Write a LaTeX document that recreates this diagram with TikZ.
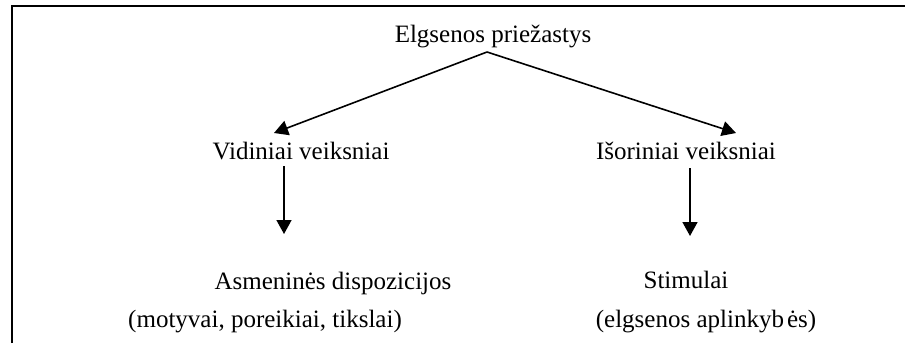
\documentclass[tikz,border=0pt]{standalone}
\usepackage{fontspec}
\setmainfont{Liberation Serif}
\usetikzlibrary{arrows.meta}
\tikzset{
	lbl/.style={inner sep=0pt,anchor=base,font=\fontsize{25}{30}\selectfont},
	arr/.style={line width=1.6pt,-{Triangle[length=14pt,width=15pt]}},
	frame/.style={line width=2pt}
}
\begin{document}
\begin{tikzpicture}[x=1pt,y=-1pt]
	\useasboundingbox (0,0) rectangle (905,343);
	\draw[frame](12,343)--(12,6)--(905,6);
	\node[lbl] (cause) at (493,42) {Elgsenos priežastys};
	\node[lbl] (inner) at (301,159) {Vidiniai veiksniai};
	\node[lbl] (outer) at (686,159) {Išoriniai veiksniai};
	\node[lbl] (disp) at (333,289) {Asmeninės dispozicijos};
	\node[lbl] (dispnote) at (265,327) {(motyvai, poreikiai, tikslai)};
	\node[lbl] (stim) at (686,288) {Stimulai};
	\node[lbl] (stimnote) at (706,327) {(elgsenos aplinkyb\kern3pt ės)};
	\coordinate (apex) at (487,52);
	\coordinate (tipL) at (274,133);
	\coordinate (tipR) at (736,133);
	\coordinate (vidtop) at (284,166);
	\coordinate (vidend) at (284,234);
	\coordinate (istop) at (690,168);
	\coordinate (isend) at (690,236);
	\draw[arr](apex)--(tipL);
	\draw[arr](apex)--(tipR);
	\draw[arr](vidtop)--(vidend);
	\draw[arr](istop)--(isend);
\end{tikzpicture}
\end{document}
